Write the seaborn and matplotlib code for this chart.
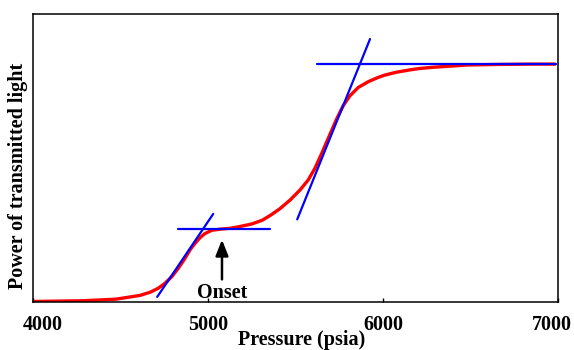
import matplotlib
matplotlib.use("Agg")
import matplotlib.pyplot as plt
import matplotlib.transforms as mtrans
import pandas as pd
import seaborn as sns

# Data (y in relative units, 0 = bottom, 1 = top)
pressure = [4000, 4286, 4474, 4611, 4669, 4716, 4754, 4793, 4830, 4869, 4897,
            4926, 4954, 4983, 5021, 5069, 5126, 5173, 5250, 5310, 5354, 5411,
            5469, 5526, 5573, 5611, 5650, 5687, 5735, 5773, 5811, 5859, 5916,
            5973, 6011, 6078, 6154, 6211, 6286, 6383, 6480, 6669, 6840, 6983]
power = [0.002, 0.0045, 0.010, 0.023, 0.034, 0.048, 0.065, 0.088, 0.117, 0.152,
         0.181, 0.204, 0.223, 0.238, 0.249, 0.253, 0.256, 0.261, 0.271, 0.284,
         0.300, 0.324, 0.354, 0.389, 0.424, 0.464, 0.516, 0.568, 0.635, 0.682,
         0.716, 0.745, 0.765, 0.780, 0.788, 0.798, 0.806, 0.811, 0.815, 0.819,
         0.823, 0.825, 0.826, 0.826]

# Tangent construction lines (x pair, y pair)
tangent_lines = {
    "rise1": ([4710, 5030], [0.018, 0.306]),
    "plateau1": ([4830, 5354], [0.252, 0.252]),
    "rise2": ([5510, 5926], [0.287, 0.913]),
    "plateau2": ([5625, 6989], [0.826, 0.826]),
}

onset_x = 5080
onset_tip = 0.226
onset_tail = 0.069
xticks = [4000, 5000, 6000, 7000]

sns.set_theme(style="white")
plt.rcParams["font.family"] = ["Liberation Serif", "DejaVu Serif"]
plt.rcParams["font.weight"] = "bold"
plt.rcParams["text.color"] = "black"
plt.rcParams["axes.labelcolor"] = "black"
plt.rcParams["xtick.color"] = "black"

fig = plt.figure(figsize=(5.74, 3.5), dpi=100)
ax = fig.add_axes([0.0575, 0.137, 0.9145, 0.823])

df = pd.DataFrame({"pressure": pressure, "power": power})
sns.lineplot(data=df, x="pressure", y="power", color="#ff0000", lw=2.4,
             ax=ax, solid_joinstyle="round", solid_capstyle="round")

for name, (xs, ys) in tangent_lines.items():
    sns.lineplot(x=xs, y=ys, color="#0000ff", lw=1.6, ax=ax)

ax.annotate("", xy=(onset_x, onset_tip), xytext=(onset_x, onset_tail),
            arrowprops=dict(arrowstyle="-|>,head_length=0.8,head_width=0.32",
                            color="black", lw=1.8))
ax.text(onset_x, onset_tail - 0.002, "Onset", ha="center", va="top",
        fontsize=14.5, fontweight="bold")

ax.set_xlim(4000, 7000)
ax.set_ylim(0, 1)
ax.set_xticks(xticks)
ax.set_xticklabels([str(t) for t in xticks], fontsize=14.5, fontweight="bold")
ax.set_yticks([])
ax.tick_params(axis="x", direction="in", length=3, width=1, pad=9, bottom=True)
ax.set_xlabel("Pressure (psia)", fontsize=14.5, fontweight="bold")
ax.xaxis.set_label_coords(0.512, -0.098)
ax.set_ylabel("Power of transmitted light", fontsize=14.5, fontweight="bold")
ax.yaxis.set_label_coords(-0.01, 0.4375)

labels = ax.get_xticklabels()
labels[0].set_transform(labels[0].get_transform() +
                        mtrans.ScaledTranslation(10 / 100, 0, fig.dpi_scale_trans))
labels[-1].set_transform(labels[-1].get_transform() +
                         mtrans.ScaledTranslation(-6 / 100, 0, fig.dpi_scale_trans))

for s in ax.spines.values():
    s.set_color("black")
    s.set_linewidth(1.1)

fig.savefig("out.png", dpi=100)
